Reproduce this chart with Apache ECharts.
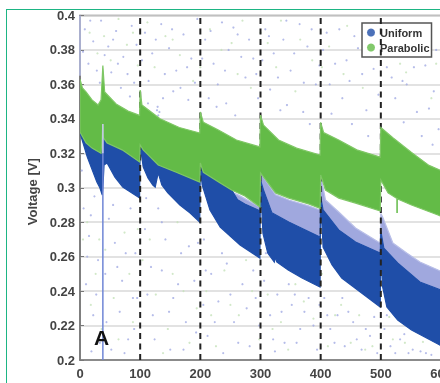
<!DOCTYPE html>
<html>
<head>
<meta charset="utf-8">
<style>
  html, body { margin: 0; padding: 0; background: #fff; overflow: hidden; }
  #frame { position: absolute; left: 6px; top: 9px; width: 500px; height: 500px; border: 1.5px solid #1db584; }
  #chart { position: absolute; left: 0; top: 0; width: 440px; height: 383px; filter: blur(0.4px); }
</style>
<script src="https://cdn.jsdelivr.net/npm/echarts@6/dist/echarts.min.js"></script>
</head>
<body>
<div id="frame"></div>
<div id="chart"></div>
<script>
// envelopes of the voltage bands, [current step, volts]
const greenTop = [[0,.363],[4,.358],[10,.3556],[20,.351],[30,.348],[35,.351],[38,.371],[41,.3556],[60,.3486],[80,.3445],[99,.342],
  [100,.3567],[103,.348],[133,.34],[165,.335],[199,.3318],
  [200,.344],[205,.338],[230,.3335],[260,.3277],[299,.3237],
  [300,.3422],[305,.3364],[330,.3277],[360,.323],[399,.319],
  [400,.338],[405,.332],[430,.3277],[460,.322],[499,.3178],
  [500,.335],[520,.329],[550,.3208],[580,.313],[600,.31]];
const greenBottom = [[0,.3324],[10,.326],[20,.323],[35,.32],[38,.337],[39,.329],[45,.326],[70,.322],[99,.315],
  [100,.3248],[105,.322],[130,.3132],[160,.309],[199,.3033],
  [200,.3144],[205,.309],[233,.3028],[252,.2987],[274,.2952],[299,.2888],
  [300,.3086],[325,.297],[347,.294],[380,.2906],[399,.288],
  [400,.3074],[408,.2987],[430,.294],[458,.2911],[499,.2865],
  [500,.3045],[512,.297],[528,.2935],[551,.29],[595,.2842],[600,.2835]];
const lilacTop = [[262,.296],[299,.2888],
  [300,.3086],[325,.296],[347,.2929],[380,.2895],[399,.2871],
  [400,.3074],[408,.2929],[430,.2859],[458,.2766],[496,.2685],[499,.2679],
  [500,.285],[503,.283],[520,.2679],[543,.2621],[565,.2569],[600,.2515]];
const blueTop = [[0,.3324],[10,.326],[20,.323],[35,.32],[38,.337],[39,.329],[45,.326],[70,.322],[99,.315],
  [100,.3248],[105,.322],[130,.3132],[160,.309],[199,.3033],
  [200,.3144],[205,.309],[233,.3028],[252,.2987],[262,.293],[274,.2905],[299,.2866],
  [300,.3045],[305,.2987],[319,.2854],[347,.2801],[399,.2714],
  [400,.295],[404,.2871],[430,.2755],[458,.2685],[499,.2621],
  [500,.275],[505,.265],[528,.2563],[565,.2453],[600,.2406]];
const blueBottom = [[0,.3318],[12,.3179],[28,.3033],[33,.3],[37,.2958],[38,.3],[40,.3132],[45,.3144],[58,.3062],[71,.3004],[99,.2941],
  [100,.3248],[105,.3121],[113,.3057],[121,.3016],[125,.3004],[130,.3086],[136,.3016],[146,.297],[166,.29],[183,.2853],[199,.2801],
  [200,.3144],[203,.3016],[216,.2871],[233,.2772],[266,.2668],[299,.2592],
  [300,.3045],[304,.2737],[312,.2621],[323,.2569],[325,.2598],[327,.2569],[346,.2523],[369,.2476],[399,.2424],
  [400,.2945],[404,.2656],[419,.2552],[435,.2476],[457,.2418],[499,.2308],
  [500,.265],[503,.2424],[510,.2308],[528,.2232],[551,.2174],[598,.2087],[600,.2082]];

// thin outliers
const blueDip = [[38,.2],[38,.33]];
const blueDipTop = [[38,.337],[38,.32]];
const blueStart = [[0,.4],[0,.365]];
const greenDip = [[527,.2935],[527,.2853]];

const cycleStarts = [100, 200, 300, 400, 500];

// stray samples
const blueStray = [[8,.392],[22,.385],[35,.397],[47,.382],[60,.391],[72,.376],[86,.394],[14,.372],[28,.368],[52,.367],[68,.358],[90,.361],
  [108,.39],[120,.378],[135,.395],[148,.381],[160,.368],[172,.389],[185,.375],[195,.398],[128,.345],[130,.342],[132,.344],[129,.347],[155,.356],[180,.351],
  [208,.386],[222,.372],[236,.396],[247,.38],[262,.389],[275,.364],[288,.375],[296,.352],[214,.352],[243,.349],
  [308,.392],[322,.378],[338,.386],[350,.368],[365,.395],[378,.382],[392,.36],[316,.357],[344,.348],[371,.344],
  [410,.39],[424,.372],[436,.352],[448,.362],[462,.381],[476,.345],[488,.369],[418,.343],
  [510,.37],[524,.352],[536,.362],[548,.381],[560,.344],[574,.371],[588,.356],[596,.334],[568,.33],
  [17,.397],[41,.377],[55,.386],[79,.366],[94,.383],[5,.379],[33,.361],[63,.372],[83,.353],
  [103,.374],[114,.362],[126,.386],[141,.366],[153,.392],[167,.358],[178,.37],[191,.361],[138,.352],[113,.349],
  [203,.375],[217,.391],[229,.36],[241,.368],[255,.393],[268,.376],[281,.386],[293,.366],[227,.347],[258,.342],
  [303,.374],[314,.388],[329,.364],[343,.397],[356,.378],[372,.361],[385,.392],[398,.371],[333,.345],[382,.337],
  [404,.38],[415,.36],[431,.392],[443,.374],[456,.388],[469,.366],[483,.38],[496,.354],[452,.337],[479,.33],
  [505,.385],[518,.364],[530,.38],[543,.36],[555,.37],[567,.39],[580,.346],[592,.38],[538,.338],[586,.325],
  [6,.288],[15,.272],[24,.295],[30,.258],[10,.244],[22,.226],[33,.21],[48,.282],[58,.268],[70,.246],[84,.288],[92,.262],[66,.228],[80,.212],[52,.206],[95,.236],
  [108,.276],[118,.254],[130,.288],[142,.27],[155,.236],[168,.262],[176,.222],[190,.246],[124,.212],[150,.206],[196,.268],
  [206,.27],[218,.25],[230,.234],[244,.256],[256,.222],[270,.244],[282,.208],[292,.236],[212,.214],[238,.204],
  [306,.246],[316,.226],[328,.238],[340,.21],[352,.232],[366,.218],[380,.236],[394,.206],[324,.205],
  [406,.236],[416,.218],[428,.226],[440,.208],[454,.222],[468,.206],[482,.214],[494,.204],
  [506,.218],[516,.208],[532,.212],[546,.204],[566,.205],[584,.203],
  [3,.31],[18,.284],[12,.26],[27,.238],[42,.25],[44,.222],[62,.254],[76,.262],[88,.236],[74,.204],[90,.218],[19,.205],[55,.29],
  [112,.238],[121,.226],[136,.252],[148,.228],[163,.244],[181,.266],[172,.206],[193,.216],[110,.294],[136,.28],
  [209,.252],[224,.222],[236,.262],[250,.238],[263,.21],[277,.23],[288,.252],[298,.22],[205,.232],
  [309,.262],[321,.212],[335,.228],[347,.244],[360,.21],[373,.228],[388,.22],[357,.238],[398,.232],
  [411,.226],[423,.21],[446,.228],[460,.212],[475,.218],[489,.225],[436,.236],
  [510,.226],[524,.204],[539,.215],[553,.206],[575,.204]];
const greenStray = [[16,.39],[40,.388],[64,.398],[78,.383],[96,.371],[112,.396],[142,.388],[166,.377],[188,.362],
  [216,.392],[252,.384],[270,.397],[284,.358],[312,.384],[334,.397],[358,.356],[386,.374],
  [414,.382],[444,.394],[470,.358],[494,.386],[516,.391],[542,.367],[578,.388],[592,.372],
  [12,.28],[26,.25],[42,.264],[56,.236],[74,.274],[88,.222],[36,.218],[104,.258],[126,.238],[146,.218],[162,.28],[182,.21],
  [210,.24],[226,.208],[250,.232],[276,.258],[298,.212],[312,.238],[334,.222],[358,.244],[388,.224],
  [412,.208],[434,.232],[464,.226],[486,.208],[514,.225],[540,.21],[570,.2105],
  [29,.378],[51,.374],[88,.39],[124,.37],[154,.386],[200,.37],[235,.38],[262,.366],[300,.39],[326,.37],[366,.386],[402,.37],[438,.366],[480,.39],[532,.372],[560,.395],[584,.352],
  [5,.27],[18,.232],[32,.27],[64,.212],[82,.25],[96,.276],[116,.27],[138,.204],[154,.25],[172,.24],[194,.23],
  [218,.226],[240,.252],[264,.226],[286,.24],[320,.218],[346,.206],[372,.234],[402,.25],[424,.226],[450,.21],[474,.206],[500,.215],[520,.212]];

const chart = echarts.init(document.getElementById('chart'), null, { renderer: 'svg' });

// closed shape between an upper and a lower envelope
const bandSeries = (upper, lower, color, edge, z) => ({
  type: 'custom',
  z: z,
  silent: true,
  clip: true,
  data: [0],
  renderItem: (params, api) => ({
    type: 'polygon',
    shape: { points: upper.concat(lower.slice().reverse()).map(p => api.coord(p)) },
    style: { fill: color, stroke: edge, lineWidth: 1.2 }
  })
});

const thinLine = (points, color, z) => ({
  type: 'line',
  z: z,
  data: points,
  silent: true,
  symbol: 'none',
  lineStyle: { color: color, width: 1.5 }
});

chart.setOption({
  animation: false,
  grid: {
    left: 80, top: 15.5, width: 361, height: 344.5,
    outerBoundsMode: 'none',
    show: true, borderColor: '#777', borderWidth: 1.5
  },
  legend: {
    orient: 'vertical',
    left: 362, top: 23,
    padding: [4, 2, 4, 5],
    itemGap: 4,
    itemWidth: 8, itemHeight: 8,
    itemGap: 4,
    icon: 'circle',
    backgroundColor: '#fff',
    borderColor: '#555',
    borderWidth: 1.5,
    borderRadius: 0,
    textStyle: { fontFamily: 'Liberation Sans', fontWeight: 'bold', fontSize: 11, color: '#333' },
    data: [
      { name: 'Uniform', itemStyle: { color: '#1f4ea8', borderWidth: 0 } },
      { name: 'Parabolic', itemStyle: { color: '#63bb47', borderWidth: 0 } }
    ]
  },
  xAxis: {
    type: 'value',
    min: 0, max: 600, interval: 100,
    axisLine: { lineStyle: { color: '#777', width: 1.5 } },
    axisTick: { show: false },
    splitLine: { show: false },
    axisLabel: {
      fontFamily: 'Liberation Sans', fontWeight: 'bold', fontSize: 13, color: '#444',
      margin: 7, showMaxLabel: true
    }
  },
  yAxis: {
    type: 'value',
    min: 0.2, max: 0.4, interval: 0.02,
    name: 'Voltage [V]',
    nameLocation: 'middle',
    nameGap: 28,
    nameTextStyle: { fontFamily: 'Liberation Sans', fontWeight: 'bold', fontSize: 13, color: '#444', padding: [0, 8, 0, 0] },
    axisLine: { lineStyle: { color: '#777', width: 1.5 } },
    axisTick: { inside: true, length: 4, lineStyle: { color: '#777' } },
    splitLine: { lineStyle: { color: '#d9d9d9', width: 1.5 } },
    axisLabel: { fontFamily: 'Liberation Sans', fontWeight: 'bold', fontSize: 13, color: '#444', margin: 5 }
  },
  graphic: [{
    type: 'text', left: 94, top: 327, z: 100,
    style: { text: 'A', fontFamily: 'Liberation Sans', fontWeight: 'bold', fontSize: 21, fill: '#111' }
  }],
  series: [
    { name: 'Uniform', type: 'scatter', z: 1, silent: true, data: blueStray, symbolSize: 2.2, itemStyle: { color: '#a3abe4' } },
    { name: 'Parabolic', type: 'scatter', z: 1, silent: true, data: greenStray, symbolSize: 2.2, itemStyle: { color: '#c6e2ba' } },
    bandSeries(lilacTop, blueTop, '#a0a8de', '#b9bfe8', 2),
    bandSeries(blueTop, blueBottom, '#1f4ea8', '#1f4ea8', 3),
    thinLine(blueDip, '#6f86d6', 3),
    thinLine(blueStart, '#b9bfe8', 3),
    {
      type: 'custom',
      z: 4,
      silent: true,
      data: cycleStarts,
      encode: { x: 0 },
      renderItem: (params, api) => {
        const from = api.coord([api.value(0), 0.2]);
        const to = api.coord([api.value(0), 0.4]);
        return {
          type: 'line',
          shape: { x1: from[0], y1: from[1], x2: to[0], y2: to[1] },
          style: { stroke: '#222', lineWidth: 2, lineDash: [6, 4.5] }
        };
      }
    },
    bandSeries(greenTop, greenBottom, '#63bb47', '#7fc765', 5),
    thinLine(greenDip, '#63bb47', 5),
    thinLine(blueDipTop, '#c9cbee', 6)
  ]
});
</script>
</body>
</html>
